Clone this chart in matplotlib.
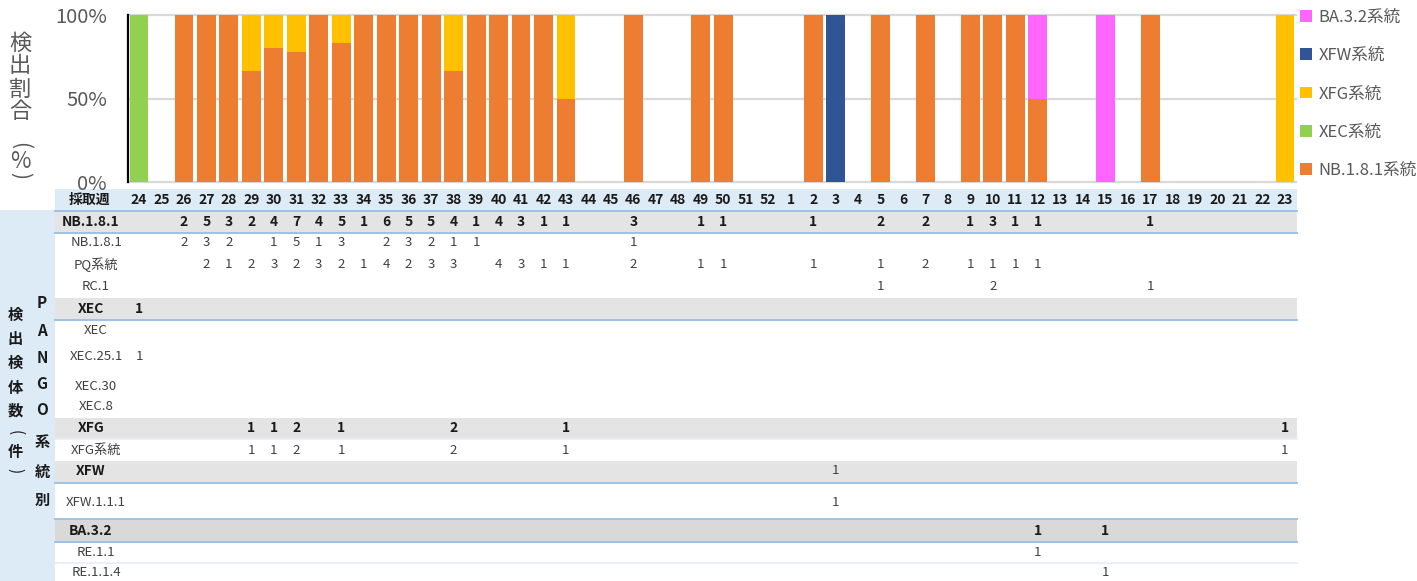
import matplotlib
matplotlib.use("Agg")
import matplotlib.pyplot as plt
import matplotlib.transforms as mtransforms
from matplotlib.patches import Rectangle, Patch
import numpy as np

plt.rcParams['font.family'] = ['Noto Sans CJK JP', 'DejaVu Sans']

# ---------------- data ----------------
weeks = [24, 25, 26, 27, 28, 29, 30, 31, 32, 33, 34, 35, 36, 37, 38, 39, 40,
         41, 42, 43, 44, 45, 46, 47, 48, 49, 50, 51, 52, 1, 2, 3, 4, 5, 6, 7,
         8, 9, 10, 11, 12, 13, 14, 15, 16, 17, 18, 19, 20, 21, 22, 23]

# sub-lineage counts by sampling week
nb181_nb181 = {26: 2, 27: 3, 28: 2, 30: 1, 31: 5, 32: 1, 33: 3, 35: 2, 36: 3,
               37: 2, 38: 1, 39: 1, 46: 1}
nb181_pq = {27: 2, 28: 1, 29: 2, 30: 3, 31: 2, 32: 3, 33: 2, 34: 1, 35: 4,
            36: 2, 37: 3, 38: 3, 40: 4, 41: 3, 42: 1, 43: 1, 46: 2, 49: 1,
            50: 1, 2: 1, 5: 1, 7: 2, 9: 1, 10: 1, 11: 1, 12: 1}
nb181_rc1 = {5: 1, 10: 2, 17: 1}
xec_xec = {}
xec_25_1 = {24: 1}
xec_30 = {}
xec_8 = {}
xfg_sub = {29: 1, 30: 1, 31: 2, 33: 1, 38: 2, 43: 1, 23: 1}
xfw_111 = {3: 1}
ba32_re11 = {12: 1}
ba32_re114 = {15: 1}

group_names = ["NB.1.8.1", "XEC", "XFG", "XFW", "BA.3.2"]
legend_names = ["NB.1.8.1系統", "XEC系統", "XFG系統", "XFW系統", "BA.3.2系統"]
sub_names = [["NB.1.8.1", "PQ系統", "RC.1"],
             ["XEC", "XEC.25.1", "XEC.30", "XEC.8"],
             ["XFG系統"],
             ["XFW.1.1.1"],
             ["RE.1.1", "RE.1.1.4"]]
sub_counts = [[nb181_nb181, nb181_pq, nb181_rc1],
              [xec_xec, xec_25_1, xec_30, xec_8],
              [xfg_sub],
              [xfw_111],
              [ba32_re11, ba32_re114]]

# ---------------- styles ----------------
colors = ["#ED7D31", "#92D050", "#FFC000", "#2F5597", "#FF66FF"]
group_bold = [True, True, True, False, True]
group_row_y = [222, 309, 428, 471, 531]
group_bg = [(211, 233, "#E4E4E4"), (298, 320, "#E4E4E4"), (418, 439, "#E4E4E4"),
            (461, 482, "#E4E4E4"), (520, 541, "#D9D9D9")]
sub_row_y = [[243, 265, 287], [331, 357, 386, 407], [450], [502], [552, 573]]
blue_lines = [211, 233, 320, 483, 519, 542]
faint_lines = [439, 563]

W, H = 1417, 581
fig = plt.figure(figsize=(W / 100, H / 100), dpi=100)

# pixel overlay for table
ov = fig.add_axes([0, 0, 1, 1], zorder=0)
ov.set_xlim(0, W)
ov.set_ylim(H, 0)
ov.axis('off')

# bar axes
left_px, right_px, top_px, bot_px = 127.8, 1296.2, 15, 182
ax = fig.add_axes([left_px / W, (H - bot_px) / H, (right_px - left_px) / W,
                   (bot_px - top_px) / H], zorder=2)
ax.patch.set_alpha(0)

x = np.arange(len(weeks))
group_totals = []
for counts in sub_counts:
    tot = np.array([sum(c.get(w, 0) for c in counts) for w in weeks], dtype=float)
    group_totals.append(tot)
all_tot = np.sum(group_totals, axis=0)
safe = np.where(all_tot > 0, all_tot, 1)

bottom = np.zeros(len(weeks))
for tot, col, lab in zip(group_totals, colors, legend_names):
    share = tot / safe
    ax.bar(x, share, bottom=bottom, width=0.84, color=col, label=lab,
           linewidth=0, zorder=3)
    bottom += share

ax.set_xlim(-0.5, len(weeks) - 0.5)
ax.set_ylim(0, 1)
ax.set_yticks([0, 0.5, 1.0])
ax.set_yticklabels(["0%", "50%", "100%"], fontsize=14.5, color="#595959")
ax.tick_params(axis='y', length=0, pad=15)
ax.set_xticks([])
for s in ["top", "right", "bottom"]:
    ax.spines[s].set_visible(False)
ax.spines["left"].set_color("black")
ax.spines["left"].set_linewidth(1.6)
ax.spines["left"].set_zorder(5)
for yv in [0, 0.5, 1.0]:
    ax.axhline(yv, color="#D9D9D9", linewidth=1.6, zorder=1, clip_on=False)

handles = [Patch(facecolor=c) for c in colors][::-1]
ax.legend(handles, legend_names[::-1], loc='upper left',
          bbox_to_anchor=(1300 / W, (H - 9) / H), bbox_transform=fig.transFigure,
          frameon=False, fontsize=12, labelcolor="#595959",
          handlelength=0.7, handleheight=0.7, handletextpad=0.4,
          labelspacing=1.27, borderaxespad=0, borderpad=0)

# y label: stacked vertical characters (parentheses turned for vertical writing)
for ch, yy, rot, fs in [("検", 43, 0, 16), ("出", 66, 0, 16), ("割", 89, 0, 16),
                        ("合", 112, 0, 16), ("(", 146, -90, 15), ("%", 161, 0, 16),
                        (")", 176, -90, 15)]:
    ov.text(20, yy, ch, ha='center', va='center', fontsize=fs, color="#595959",
            rotation=rot, rotation_mode='anchor')

# ---------------- table ----------------
tx = mtransforms.blended_transform_factory(ax.transData, ov.transData)
tab_l, tab_r = 55, 1297

ov.add_patch(Rectangle((tab_l, 189), tab_r - tab_l, 22, color="#DDEBF7", lw=0))
ov.add_patch(Rectangle((0, 210), tab_l, H - 210, color="#DDEBF7", lw=0))
for y0, y1, c in group_bg:
    ov.add_patch(Rectangle((tab_l, y0), tab_r - tab_l, y1 - y0, color=c, lw=0))
for yl in blue_lines:
    ov.plot([tab_l, tab_r], [yl, yl], color="#9BC2E6", lw=1.4)
for yl in faint_lines:
    ov.plot([tab_l, tab_r], [yl, yl], color="#E6EEF6", lw=1.2)

# header row
ov.text(90, 200, "採取週", ha='center', va='center', fontsize=10,
        fontweight='bold', color="#1a1a1a")
for xi, w in zip(x, weeks):
    ov.text(xi, 200, str(w), transform=tx, ha='center', va='center',
            fontsize=10, fontweight='bold', color="#1a1a1a")

for gi, gname in enumerate(group_names):
    gy = group_row_y[gi]
    wt = 'bold' if group_bold[gi] else 'normal'
    ov.text(91, gy, gname, ha='center', va='center', fontsize=10,
            fontweight='bold', color="#1a1a1a")
    for xi, v in zip(x, group_totals[gi]):
        if v > 0:
            ov.text(xi, gy, str(int(v)), transform=tx, ha='center', va='center',
                    fontsize=10 if group_bold[gi] else 9.5, fontweight=wt,
                    color="#1a1a1a" if group_bold[gi] else "#404040")
    for sname, counts, sy in zip(sub_names[gi], sub_counts[gi], sub_row_y[gi]):
        ov.text(96, sy, sname, ha='center', va='center', fontsize=9.5,
                color="#404040")
        for xi, w in zip(x, weeks):
            v = counts.get(w, 0)
            if v > 0:
                ov.text(xi, sy, str(v), transform=tx, ha='center', va='center',
                        fontsize=9.5, color="#404040")

# left vertical labels
for ch, yy, rot in [("検", 315, 0), ("出", 339, 0), ("検", 363, 0), ("体", 388, 0),
                    ("数", 411, 0), ("(", 433, -90), ("件", 452, 0),
                    (")", 471, -90)]:
    ov.text(15, yy, ch, ha='center', va='center', fontsize=11,
            fontweight='bold' if rot == 0 else 'normal', color="#1a1a1a",
            rotation=rot, rotation_mode='anchor')
for ch, yy in zip(["P", "A", "N", "G", "O", "系", "統", "別"],
                  [303, 331, 358, 384, 410, 442, 472, 500]):
    ov.text(42, yy, ch, ha='center', va='center', fontsize=11,
            fontweight='bold', color="#1a1a1a")

fig.savefig("out.png", dpi=100)
